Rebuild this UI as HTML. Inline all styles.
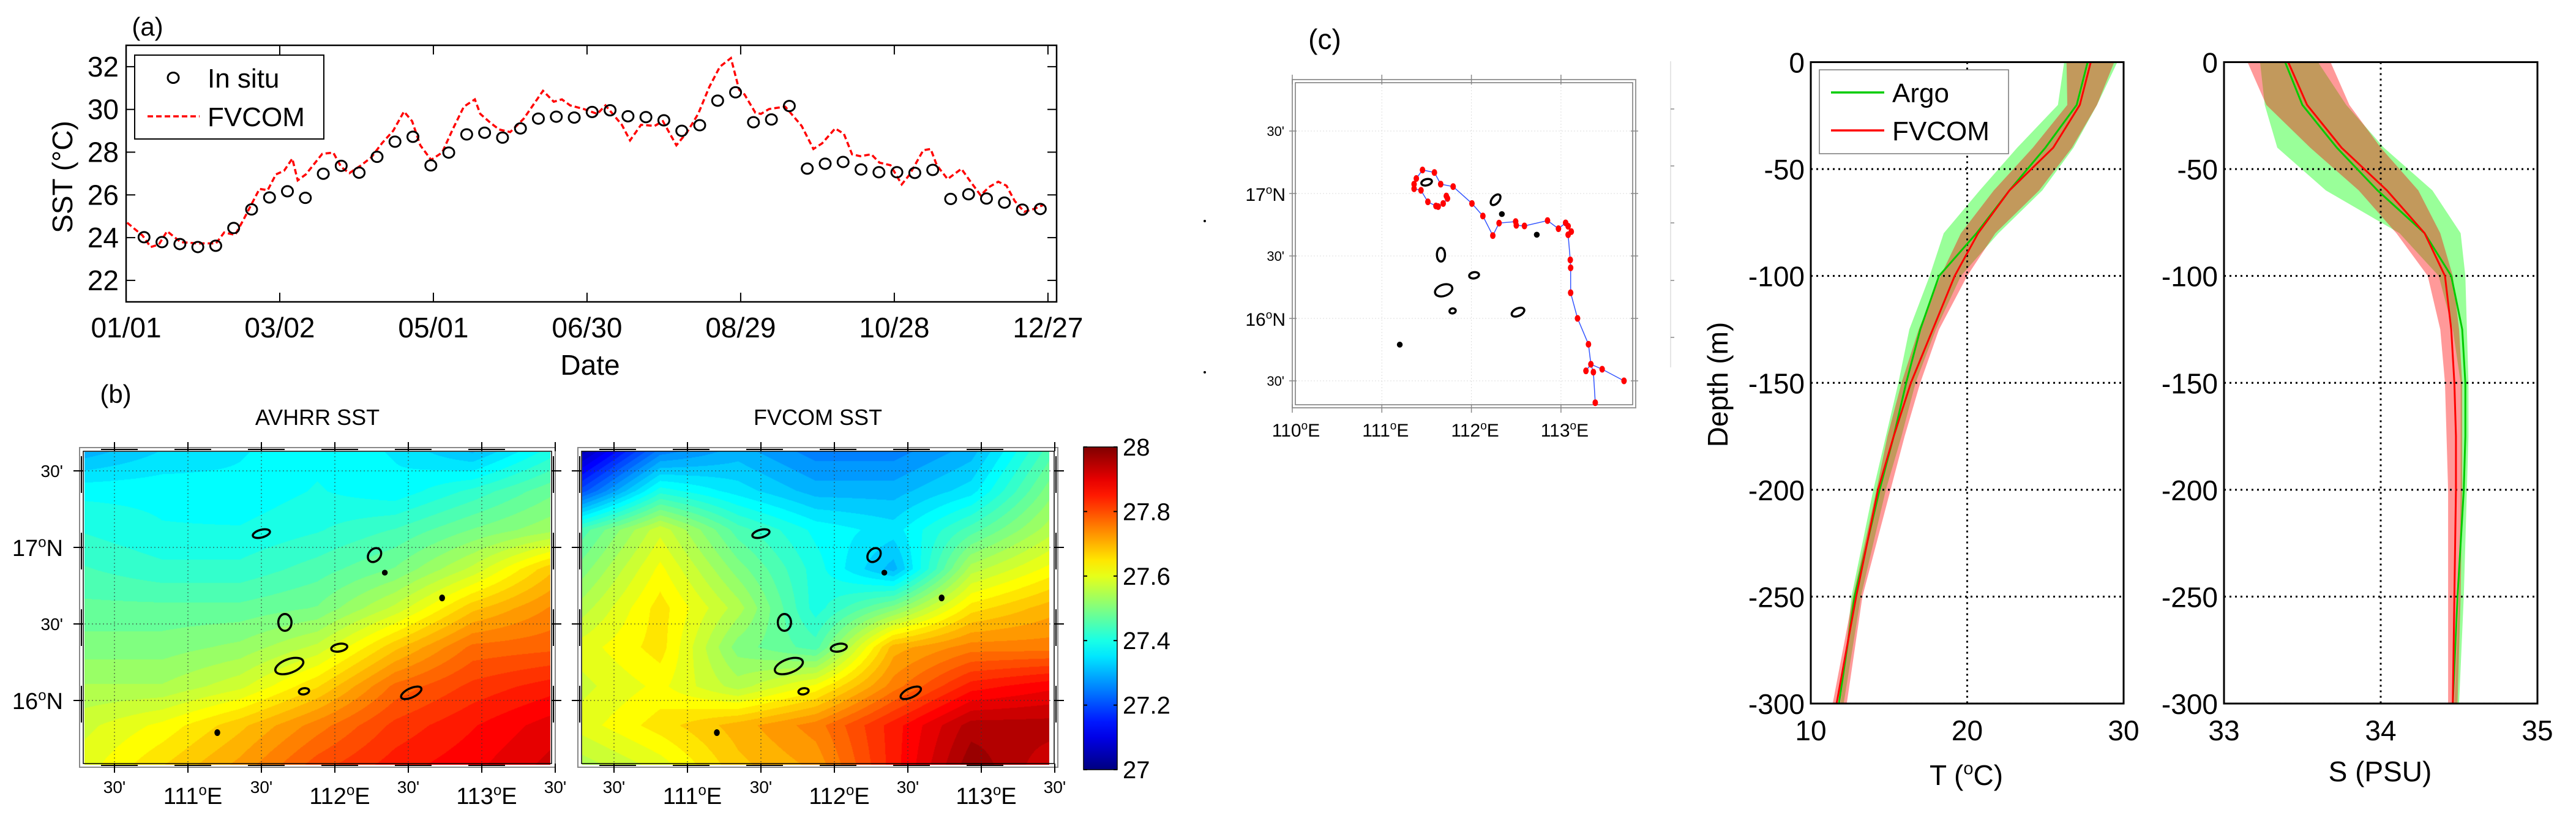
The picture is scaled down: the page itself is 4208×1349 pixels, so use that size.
<!DOCTYPE html>
<html><head><meta charset="utf-8">
<style>
html,body{margin:0;padding:0;background:#fff;}
#root{position:relative;width:4208px;height:1349px;overflow:hidden;background:#fff;font-family:"Liberation Sans",sans-serif;}
canvas{position:absolute;}
svg{position:absolute;left:0;top:0;}
text{font-family:"Liberation Sans",sans-serif;fill:#000;}
</style></head>
<body>
<div id="root">
<canvas id="fieldA" width="761" height="511" style="left:138px;top:738px"></canvas>
<canvas id="fieldF" width="763" height="512" style="left:951px;top:737px"></canvas>
<svg id="svg" width="4208" height="1349" viewBox="0 0 4208 1349"></svg>
</div>
<script>
// ---------- Panel (a) data ----------
const insituDays = [7,14,21,28,35,42,49,56,63,70,77,84,91,98,105,112,119,126,133,140,147,154,161,168,175,182,189,196,203,210,217,224,231,238,245,252,259,266,273,280,287,294,301,308,315,322,329,336,343,350,357];
const insituSST = [24.02,23.79,23.70,23.56,23.62,24.45,25.32,25.88,26.17,25.86,26.99,27.36,27.04,27.78,28.49,28.72,27.38,27.98,28.83,28.91,28.68,29.11,29.57,29.66,29.62,29.88,29.96,29.68,29.64,29.49,29.00,29.26,30.41,30.80,29.40,29.53,30.16,27.23,27.46,27.54,27.19,27.06,27.06,27.03,27.17,25.81,26.03,25.83,25.64,25.31,25.34];
const fvcomDays = [0.4,6.4,9.6,12.8,16,21.3,27.7,35.1,38.3,42.6,45.7,52.1,55.3,58.5,61.7,64.9,67,70.2,76.6,80.9,84,87.2,91.5,95.7,100,104.3,108.5,111.7,114.9,119.1,123.4,127.7,131.9,136.2,138.3,142.6,145.7,150,155.3,162.8,167,170.2,173.4,178.7,184,187.2,193.6,196.8,201.1,206.4,209.6,214.9,219.1,223.4,227.7,231.9,236.2,239.4,241.5,245.7,247.9,251.1,257.4,263.8,268.4,271.8,276.9,280.3,283.5,286.7,291,294.2,298.5,302.9,305.9,311.3,314.2,316.6,320.8,326.2,329.4,333.7,336.9,340.6,343.8,347,350.7,354.5,358.2];
const fvcomSST = [24.7,24.1,23.56,23.68,24.3,23.79,23.73,23.73,24.24,24.13,24.81,26.28,26.22,26.96,27.13,27.7,26.68,26.96,27.92,27.98,27.3,27.02,27.36,27.75,28.43,29.0,29.9,29.45,28.32,27.64,27.98,29.11,30.13,30.47,29.79,29.34,29.06,28.94,29.57,30.87,30.36,30.47,30.19,30.02,29.79,30.19,29.28,28.55,29.28,29.23,29.45,28.32,28.94,29.79,31.04,32.0,32.4,30.92,30.7,29.85,29.79,30.02,30.13,29.23,28.15,28.41,29.11,28.86,27.9,27.81,27.9,27.51,27.39,26.49,26.94,28.09,28.15,27.39,26.74,27.22,26.68,25.98,26.36,26.62,26.43,25.72,25.21,25.34,25.53];
const aTickDays = [0,60,120,180,240,300,360];
const aTickLabels = ["01/01","03/02","05/01","06/30","08/29","10/28","12/27"];
const aYTicks = [22,24,26,28,30,32];

// ---------- Profile data ----------
const profDepth = [0,-20,-40,-60,-80,-100,-125,-150,-175,-200,-250,-300];
const argoT = [27.7,27.0,25.0,22.7,20.6,18.2,17.0,16.1,15.3,14.4,12.8,11.8];
const argoTlo = [26.2,25.8,23.2,20.8,18.5,17.6,16.3,15.6,14.8,14.0,12.6,11.9];
const argoThi = [29.6,28.3,26.8,24.8,22.0,19.6,18.0,16.7,15.8,14.8,13.2,12.1];
const fvcomT = [27.9,27.2,25.5,22.7,20.7,19.2,17.8,16.4,15.3,14.3,12.9,11.65];
const fvcomTlo = [26.35,26.4,24.2,21.7,19.6,18.3,16.9,15.8,14.9,14.2,12.7,11.4];
const fvcomThi = [29.4,28.3,26.7,24.6,21.8,20.0,18.2,17.0,16.0,15.1,13.3,12.3];
const argoS = [33.39,33.50,33.72,33.98,34.28,34.45,34.52,34.54,34.54,34.53,34.49,34.46];
const argoSlo = [33.23,33.26,33.34,33.65,34.12,34.37,34.46,34.51,34.51,34.51,34.50,34.47];
const argoShi = [33.6,33.78,34.02,34.33,34.51,34.54,34.55,34.56,34.56,34.55,34.53,34.50];
const fvcomS = [33.41,33.53,33.75,34.04,34.28,34.41,34.45,34.47,34.48,34.48,34.47,34.46];
const fvcomSlo = [33.15,33.27,33.55,33.86,34.10,34.30,34.38,34.41,34.42,34.43,34.43,34.43];
const fvcomShi = [33.68,33.80,34.00,34.24,34.38,34.46,34.50,34.52,34.52,34.52,34.51,34.49];
const depthTicks = [0,-50,-100,-150,-200,-250,-300];
const tTicks = [10,20,30];
const sTicks = [33,34,35];

// ---------- Panel (c) track ----------
const trackLon = [111.720,111.733,111.685,111.629,111.604,111.514,111.437,111.360,111.360,111.385,111.454,111.587,111.657,111.796,112.006,112.128,112.239,112.309,112.494,112.501,112.592,112.850,112.972,113.052,113.080,113.115,113.080,113.104,113.108,113.108,113.185,113.307,113.334,113.460,113.704];
const trackLat = [16.98,16.96,16.92,16.895,16.90,16.933,17.025,17.038,17.075,17.12,17.188,17.168,17.075,17.055,16.92,16.82,16.663,16.763,16.775,16.745,16.74,16.783,16.718,16.765,16.738,16.695,16.67,16.468,16.405,16.205,16.0,15.793,15.633,15.593,15.5];
const branchLon = [113.334,113.362,113.383];
const branchLat = [15.633,15.57,15.325];
const branch2Lon = [113.334,113.279];
const branch2Lat = [15.633,15.58];

// islands: lon, lat, half-width deg, half-height deg, rotation
const islandLon = [111.50,112.27,112.34,112.73,111.66,112.03,111.69,111.79,112.52,111.20];
const islandLat = [17.09,16.95,16.835,16.67,16.51,16.345,16.225,16.06,16.05,15.79];
const islandRx = [0.06,0.04,0.012,0.01,0.045,0.055,0.1,0.035,0.075,0.012];
const islandRy = [0.025,0.05,0.012,0.015,0.055,0.025,0.045,0.02,0.03,0.015];
const islandRot = [-15,40,0,0,0,-10,-20,-10,-25,0];

// ---------- SST fields (rows top->bottom lat 17.62..15.58, cols lon 110.3..113.47) ----------
const avhrrGrid = [
 [27.30,27.34,27.36,27.38,27.36,27.31,27.40],
 [27.38,27.38,27.37,27.39,27.37,27.42,27.48],
 [27.41,27.39,27.39,27.41,27.44,27.49,27.53],
 [27.44,27.42,27.42,27.45,27.49,27.57,27.68],
 [27.47,27.47,27.47,27.49,27.57,27.68,27.74],
 [27.50,27.50,27.52,27.57,27.68,27.77,27.78],
 [27.54,27.54,27.58,27.66,27.77,27.82,27.85],
 [27.58,27.62,27.68,27.75,27.82,27.86,27.90],
 [27.60,27.66,27.72,27.80,27.85,27.88,27.92]];
const fvcomGrid = [
 [27.05,27.25,27.30,27.25,27.25,27.30,27.45],
 [27.20,27.40,27.35,27.30,27.30,27.35,27.50],
 [27.45,27.58,27.45,27.38,27.35,27.45,27.55],
 [27.50,27.62,27.50,27.40,27.30,27.55,27.62],
 [27.55,27.65,27.55,27.40,27.50,27.65,27.70],
 [27.60,27.65,27.50,27.45,27.70,27.75,27.75],
 [27.58,27.62,27.55,27.62,27.75,27.85,27.88],
 [27.60,27.65,27.70,27.75,27.85,27.95,27.95],
 [27.55,27.60,27.68,27.72,27.85,27.98,27.92]];
const cbTicks = [27,27.2,27.4,27.6,27.8,28];
const cbLabels = ["27","27.2","27.4","27.6","27.8","28"];

const NS='http://www.w3.org/2000/svg';
const svg=document.getElementById('svg');
function mk(tag,attrs,parent){const e=document.createElementNS(NS,tag);for(const k in attrs)e.setAttribute(k,attrs[k]);(parent||svg).appendChild(e);return e;}
function txt(x,y,s,size,anchor,parent,extra){const t=mk('text',Object.assign({x:x,y:y,'font-size':size,'text-anchor':anchor||'middle'},extra||{}),parent);t.textContent=s;return t;}
function degLabel(x,y,num,suffix,size,anchor,parent){const t=mk('text',{x:x,y:y,'font-size':size,'text-anchor':anchor||'middle'},parent);const a=document.createElementNS(NS,'tspan');a.textContent=num;t.appendChild(a);const b=document.createElementNS(NS,'tspan');b.setAttribute('font-size',Math.round(size*0.62));b.setAttribute('dy',-size*0.38);b.textContent='o';t.appendChild(b);const c=document.createElementNS(NS,'tspan');c.setAttribute('dy',size*0.38);c.textContent=suffix;t.appendChild(c);return t;}

// ================= Panel (a) =================
const gA=mk('g',{});


const ax0=206,ax1=1726,ay0=74,ay1=493;
const xA=d=>ax0+d*4.183, yA=v=>ay0+(33-v)*34.9;
let lab=txt(241,58,'(a)',42,'middle',gA);

for(let i=0;i<aTickDays.length;i++){
  const x=xA(aTickDays[i]);
  mk('line',{x1:x,y1:ay1,x2:x,y2:ay1-15,stroke:'#000','stroke-width':2},gA);
  mk('line',{x1:x,y1:ay0,x2:x,y2:ay0+15,stroke:'#000','stroke-width':2},gA);
  const t=txt(x,551,aTickLabels[i],46,'middle',gA);
  
}
for(const v of aYTicks){
  const y=yA(v);
  mk('line',{x1:ax0,y1:y,x2:ax0+15,y2:y,stroke:'#000','stroke-width':2},gA);
  mk('line',{x1:ax1,y1:y,x2:ax1-15,y2:y,stroke:'#000','stroke-width':2},gA);
  const t=txt(194,y+16,String(v),46,'end',gA);
  
}
let fr=mk('rect',{x:ax0,y:ay0,width:ax1-ax0,height:ay1-ay0,fill:'none',stroke:'#000','stroke-width':2.5},gA);

let yl=txt(0,0,'SST (°C)',46,'middle',gA,{transform:'translate(118,289) rotate(-90)'});

let xl=txt(964,612,'Date',46,'middle',gA);

let pts=fvcomDays.map((d,i)=>xA(d).toFixed(1)+','+yA(fvcomSST[i]).toFixed(1)).join(' ');
let fl=mk('polyline',{points:pts,fill:'none',stroke:'#ff0000','stroke-width':3.5,'stroke-dasharray':'9 5'},gA);

for(let i=0;i<insituDays.length;i++){
  const c=mk('ellipse',{cx:xA(insituDays[i]),cy:yA(insituSST[i]),rx:9,ry:8.5,fill:'none',stroke:'#000','stroke-width':3},gA);
  
}
const lgA=mk('g',{},gA);

mk('rect',{x:220,y:90,width:309,height:137,fill:'#fff',stroke:'#000','stroke-width':2},lgA);
mk('ellipse',{cx:283,cy:127,rx:9,ry:8.5,fill:'none',stroke:'#000','stroke-width':3},lgA);
let le1=txt(339,143,'In situ',44,'start',lgA);
mk('line',{x1:241,y1:190,x2:326,y2:190,stroke:'#ff0000','stroke-width':3.5,'stroke-dasharray':'9 5'},lgA);
let le2=txt(339,206,'FVCOM',44,'start',lgA);

// ================= Panel (b) =================
function jet(v){let t=(v-27)/1;t=Math.max(0,Math.min(1,t));const cl=x=>Math.max(0,Math.min(1,x));return [cl(1.5-Math.abs(4*t-3)),cl(1.5-Math.abs(4*t-2)),cl(1.5-Math.abs(4*t-1))].map(c=>Math.round(c*255));}
function drawField(id,grid){
  const cv=document.getElementById(id),ctx=cv.getContext('2d');const W=cv.width,H=cv.height;
  const img=ctx.createImageData(W,H);const R=grid.length,C=grid[0].length;
  for(let y=0;y<H;y++){const gy=y/(H-1)*(R-1),r0=Math.min(R-2,Math.floor(gy)),fy=gy-r0;
    for(let x=0;x<W;x++){const gx=x/(W-1)*(C-1),c0=Math.min(C-2,Math.floor(gx)),fx=gx-c0;
      let v=grid[r0][c0]*(1-fx)*(1-fy)+grid[r0][c0+1]*fx*(1-fy)+grid[r0+1][c0]*(1-fx)*fy+grid[r0+1][c0+1]*fx*fy;
      v=Math.round(v*40)/40;
      const c=jet(v),k=(y*W+x)*4;img.data[k]=c[0];img.data[k+1]=c[1];img.data[k+2]=c[2];img.data[k+3]=255;}}
  ctx.putImageData(img,0,0);
}
drawField('fieldA',avhrrGrid);
drawField('fieldF',fvcomGrid);
let lb=txt(189,658,'(b)',42,'middle');
function drawIslands(g,px,py,sx,sy){
  for(let i=0;i<islandLon.length;i++){
    const x=px(islandLon[i]),y=py(islandLat[i]);
    const e=mk('ellipse',{cx:x,cy:y,rx:Math.max(3,islandRx[i]*sx),ry:Math.max(3,islandRy[i]*sy),fill:(islandRx[i]<0.02?'#000':'none'),stroke:'#000','stroke-width':3.5,transform:'rotate('+islandRot[i]+' '+x+' '+y+')'},g);
    
  }
}
function mapPanel(name,title,x0,lon0x,frameL,frameR,showLat){
  const g=mk('g',{});
  
  const px=lon=>lon0x+(lon-111)*240, py=lat=>894+(17-lat)*250;
  for(const lon of [110.5,111,111.5,112,112.5,113]) mk('line',{x1:px(lon),y1:739,x2:px(lon),y2:1249,stroke:'#333','stroke-width':1,'stroke-dasharray':'2 4'},g);
  for(const lat of [17.5,17,16.5,16]) mk('line',{x1:frameL+8,y1:py(lat),x2:frameR-8,y2:py(lat),stroke:'#333','stroke-width':1,'stroke-dasharray':'2 4'},g);
  drawIslands(g,px,py,240,250);
  mk('rect',{x:frameL,y:731,width:frameR-frameL,height:522,fill:'none',stroke:'#888','stroke-width':2},g);
  mk('rect',{x:frameL+6,y:737,width:frameR-frameL-12,height:510,fill:'none',stroke:'#000','stroke-width':1.5},g);
  for(const lon of [110.5,111,111.5,112,112.5,113,113.5]){const x=px(lon);
    mk('line',{x1:x,y1:722,x2:x,y2:737,stroke:'#000','stroke-width':2},g);
    mk('line',{x1:x,y1:1247,x2:x,y2:1262,stroke:'#000','stroke-width':2},g);
    if(lon%1!==0){const t=txt(x,1295,"30'",28,'middle',g);}
    else {const t=degLabel(x+8,1313,String(lon),'E',38,'middle',g);}
  }
  for(let k=0;k<6;k++){const xs=frameL+35+k*120;mk('line',{x1:xs,y1:734,x2:xs+60,y2:734,stroke:'#000','stroke-width':2},g);mk('line',{x1:xs,y1:1250,x2:xs+60,y2:1250,stroke:'#000','stroke-width':2},g);}
  for(const lat of [17.5,17,16.5,16]){const y=py(lat);
    mk('line',{x1:frameL-10,y1:y,x2:frameL+6,y2:y,stroke:'#000','stroke-width':2},g);
    mk('line',{x1:frameR-6,y1:y,x2:frameR+10,y2:y,stroke:'#000','stroke-width':2},g);
    if(showLat){
      if(lat%1!==0){const t=txt(103,y+10,"30'",28,'end',g);}
      else {const t=degLabel(103,y+14,String(lat),'N',38,'end',g);}
    }
  }
  for(let k=0;k<4;k++){const ys=745+k*125;mk('line',{x1:frameL+3,y1:ys,x2:frameL+3,y2:ys+60,stroke:'#000','stroke-width':2},g);mk('line',{x1:frameR-3,y1:ys,x2:frameR-3,y2:ys+60,stroke:'#000','stroke-width':2},g);}
  const tt=txt((frameL+frameR)/2,694,title,36,'middle',g);
  
}
mapPanel('avhrr-map','AVHRR SST',138,307,130,907,true);
mapPanel('fvcom-map','FVCOM SST',951,1123,944,1728,false);
const gC=mk('g',{});

const defs=mk('defs',{});
const lg=mk('linearGradient',{id:'jetg',x1:0,y1:1,x2:0,y2:0},defs);
for(let i=0;i<=20;i++){const c=jet(27+i/20);mk('stop',{offset:(i/20),'stop-color':'rgb('+c.join(',')+')'},lg);}
mk('rect',{x:1770,y:730,width:55,height:527,fill:'url(#jetg)',stroke:'#000','stroke-width':1.5},gC);
for(let i=0;i<cbTicks.length;i++){const y=1257-(cbTicks[i]-27)*527;
  mk('line',{x1:1770,y1:y,x2:1776,y2:y,stroke:'#000','stroke-width':2},gC);
  mk('line',{x1:1819,y1:y,x2:1825,y2:y,stroke:'#000','stroke-width':2},gC);
  const t=txt(1834,y+14,cbLabels[i],40,'start',gC);}

// ================= Panel (c) =================
const gK=mk('g',{});

const cx=lon=>2111+(lon-110)*146.3, cy=lat=>316+(17-lat)*204;
let lc=txt(2164,80,'(c)',46,'middle',gK);
for(const lon of [111,112,113]) mk('line',{x1:cx(lon),y1:132,x2:cx(lon),y2:664,stroke:'#ddd','stroke-width':1,'stroke-dasharray':'2 3'},gK);
for(const lat of [17.5,17,16.5,16,15.5]) mk('line',{x1:2111,y1:cy(lat),x2:2672,y2:cy(lat),stroke:'#ddd','stroke-width':1,'stroke-dasharray':'2 3'},gK);
mk('rect',{x:2111,y:130,width:561,height:536,fill:'none',stroke:'#999','stroke-width':2},gK);
mk('rect',{x:2116,y:135,width:551,height:526,fill:'none',stroke:'#777','stroke-width':1.5},gK);
for(const lon of [110,111,112,113]){const x=cx(lon);mk('line',{x1:x,y1:122,x2:x,y2:138,stroke:'#888','stroke-width':1.5},gK);mk('line',{x1:x,y1:660,x2:x,y2:674,stroke:'#888','stroke-width':1.5},gK);
  const t=degLabel(x+6,713,String(lon),'E',30,'middle',gK);}
for(const lat of [17.5,17,16.5,16,15.5]){const y=cy(lat);mk('line',{x1:2106,y1:y,x2:2118,y2:y,stroke:'#888','stroke-width':1.5},gK);mk('line',{x1:2664,y1:y,x2:2676,y2:y,stroke:'#888','stroke-width':1.5},gK);
  if(lat%1!==0){const t=txt(2098,y+8,"30'",22,'end',gK);}
  else{const t=degLabel(2100,y+12,String(lat),'N',30,'end',gK);}}
drawIslands(gK,cx,cy,146.3,204);
let tp=trackLon.map((l,i)=>cx(l).toFixed(1)+','+cy(trackLat[i]).toFixed(1)).join(' ');
let tl=mk('polyline',{points:tp,fill:'none',stroke:'#3355ff','stroke-width':1.5},gK);

mk('polyline',{points:branchLon.map((l,i)=>cx(l)+','+cy(branchLat[i])).join(' '),fill:'none',stroke:'#3355ff','stroke-width':1.5},gK);
mk('polyline',{points:branch2Lon.map((l,i)=>cx(l)+','+cy(branch2Lat[i])).join(' '),fill:'none',stroke:'#3355ff','stroke-width':1.5},gK);
const allLon=trackLon.concat(branchLon.slice(1),branch2Lon.slice(1)), allLat=trackLat.concat(branchLat.slice(1),branch2Lat.slice(1));
for(let i=0;i<allLon.length;i++){const d=mk('ellipse',{cx:cx(allLon[i]),cy:cy(allLat[i]),rx:4.5,ry:5.5,fill:'#ff0000'},gK);
  }
mk('circle',{cx:1968,cy:361,r:2,fill:'#000'});
mk('circle',{cx:1968,cy:608,r:2,fill:'#000'});
mk('line',{x1:2729,y1:100,x2:2729,y2:600,stroke:'#ddd','stroke-width':1.5});
for(const y of [178,271,364,458,551]) mk('line',{x1:2729,y1:y,x2:2735,y2:y,stroke:'#888','stroke-width':1.5});

// ================= Profiles =================
const yP=d=>101.5+(-d)*3.4917;
function profile(name,xmin,xmax,left,right,ticks,loA,hiA,mA,loF,hiF,mF){
  const g=mk('g',{});
  
  const px=v=>left+(v-xmin)/(xmax-xmin)*(right-left);
  const band=(lo,hi,col)=>{const p=profDepth.map((d,i)=>px(lo[i])+','+yP(d)).concat(profDepth.slice().reverse().map((d,j)=>{const i=profDepth.length-1-j;return px(hi[i])+','+yP(d);}));return mk('polygon',{points:p.join(' '),fill:col,'fill-opacity':0.4},g);};
  const b1=band(loA,hiA,'#00ff00');
  const b2=band(loF,hiF,'#ff0000');
  for(const d of depthTicks) mk('line',{x1:left,y1:yP(d),x2:right,y2:yP(d),stroke:'#000','stroke-width':3,'stroke-dasharray':'3 6'},g);
  for(const v of ticks) mk('line',{x1:px(v),y1:yP(0),x2:px(v),y2:yP(-300),stroke:'#000','stroke-width':3,'stroke-dasharray':'3 6'},g);
  const l1=mk('polyline',{points:profDepth.map((d,i)=>px(mA[i])+','+yP(d)).join(' '),fill:'none',stroke:'#00cc00','stroke-width':3},g);
  
  const l2=mk('polyline',{points:profDepth.map((d,i)=>px(mF[i])+','+yP(d)).join(' '),fill:'none',stroke:'#ff0000','stroke-width':3},g);
  
  mk('rect',{x:left,y:yP(0),width:right-left,height:yP(-300)-yP(0),fill:'none',stroke:'#000','stroke-width':3},g);
  for(const d of depthTicks){const t=txt(left-10,yP(d)+17,String(d),46,'end',g);}
  for(const v of ticks){const t=txt(px(v),1209,String(v),46,'middle',g);}
  return {g,px};
}
const pT=profile('temperature-profile',10,30,2958,3469,tTicks,argoTlo,argoThi,argoT,fvcomTlo,fvcomThi,fvcomT);
const pS=profile('salinity-profile',33,35,3633,4145,sTicks,argoSlo,argoShi,argoS,fvcomSlo,fvcomShi,fvcomS);
let tx=degLabel(3212,1282,'T (','C)',46,'middle',pT.g);
let sx=txt(3888,1276,'S (PSU)',46,'middle',pS.g);
let dl=txt(0,0,'Depth (m)',46,'middle',svg,{transform:'translate(2822,628) rotate(-90)'});

const lgP=mk('g',{},pT.g);

mk('rect',{x:2972,y:114,width:309,height:137,fill:'#fff',stroke:'#777','stroke-width':1.5},lgP);
mk('line',{x1:2991,y1:151,x2:3078,y2:151,stroke:'#00cc00','stroke-width':3.5},lgP);
let a1=txt(3091,167,'Argo',44,'start',lgP);
mk('line',{x1:2991,y1:213,x2:3078,y2:213,stroke:'#ff0000','stroke-width':3.5},lgP);
let a2=txt(3091,229,'FVCOM',44,'start',lgP);
</script>
</body></html>
